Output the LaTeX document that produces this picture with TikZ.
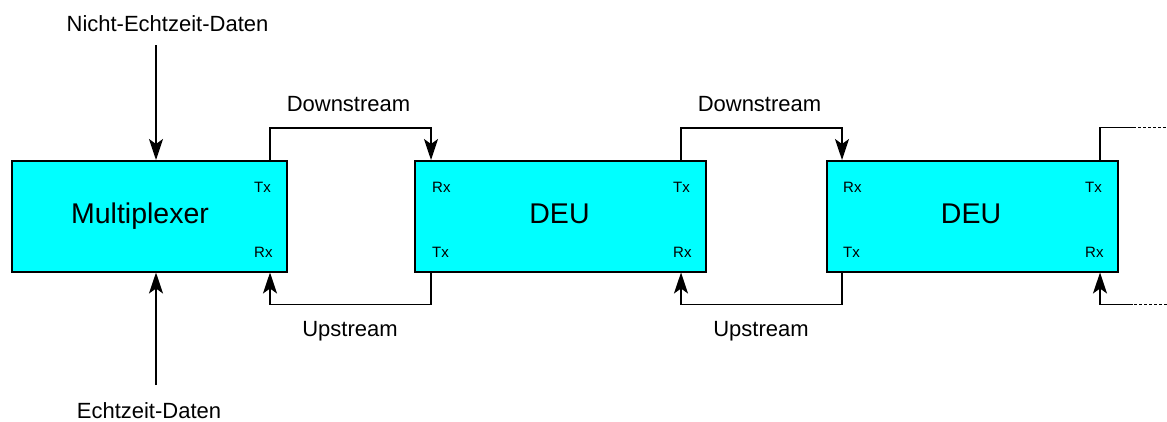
\documentclass[tikz,border=0pt]{standalone}
\usepackage{fontspec}
\setmainfont{Liberation Sans}
\usetikzlibrary{arrows.meta,calc}
\definecolor{aqua}{RGB}{0,255,255}
\begin{document}
\begin{tikzpicture}[x=1pt,y=-1pt,
  unit/.style={draw=black, line width=1.5pt, fill=aqua, inner sep=0pt,
    minimum height=111pt, anchor=north west},
  port/.style={font=\fontsize{15}{15}\selectfont, inner sep=0pt, anchor=west},
  title/.style={font=\fontsize{28.5}{30}\selectfont, inner sep=0pt, anchor=base},
  caption/.style={font=\fontsize{22}{24}\selectfont, inner sep=0pt, anchor=base},
  link/.style={line width=1.6pt},
  arr/.style={link, -{Stealth[length=21pt,width=14pt,inset=5pt]}},
  cont/.style={line width=1.2pt, dash pattern=on 3pt off 2pt},
]
\useasboundingbox (0,0) rectangle (1167,421);

% units
\node[unit, minimum width=275pt] (mux)  at (11,160)  {};
\node[unit, minimum width=291pt] (deuA) at (414,160) {};
\node[unit, minimum width=291pt] (deuB) at (826,160) {};

\node[title] (muxT)  at (140,223)   {Multiplexer};
\node[title] (deuAT) at (559.5,223) {DEU};
\node[title] (deuBT) at (971,223)   {DEU};

% port labels
\node[port] (muxTx)  at (254,187) {Tx};
\node[port] (muxRx)  at (254,252) {Rx};
\node[port] (deuARx) at (432,187) {Rx};
\node[port] (deuATx) at (432,252) {Tx};
\node[port] (deuATo) at (673,187) {Tx};
\node[port] (deuARi) at (673,252) {Rx};
\node[port] (deuBRx) at (843,187) {Rx};
\node[port] (deuBTx) at (843,252) {Tx};
\node[port] (deuBTo) at (1085,187) {Tx};
\node[port] (deuBRi) at (1085,252) {Rx};

% port columns
\coordinate (pM)  at (270,0);
\coordinate (pAL) at (431,0);
\coordinate (pAR) at (681,0);
\coordinate (pBL) at (842,0);
\coordinate (pBR) at (1100,0);
\coordinate (downRow) at (0,128);
\coordinate (upRow)   at (0,304.5);

% inputs of the multiplexer
\node[caption] (nrt) at (167.5,31) {Nicht-Echtzeit-Daten};
\node[caption] (rt)  at (149,418)  {Echtzeit-Daten};
\coordinate (nrtIn) at (156,45);
\coordinate (rtIn)  at (156,385);
\draw[arr] (nrtIn) -- (mux.north -| nrtIn);
\draw[arr] (rtIn) -- (mux.south -| rtIn);

% links between the units
\node[caption] (dsA) at (348.5,111) {Downstream};
\node[caption] (dsB) at (759.5,111) {Downstream};
\node[caption] (usA) at (350,336)   {Upstream};
\node[caption] (usB) at (761,336)   {Upstream};

\draw[arr] (mux.north -| pM) -- (pM |- downRow) -| (deuA.north -| pAL);
\draw[arr] (deuA.south -| pAL) -- (pAL |- upRow) -| (mux.south -| pM);
\draw[arr] (deuA.north -| pAR) -- (pAR |- downRow) -| (deuB.north -| pBL);
\draw[arr] (deuB.south -| pBL) -- (pBL |- upRow) -| (deuA.south -| pAR);

% continuation to the next unit
\coordinate (nxTopS) at (1133,127.5);
\coordinate (nxTop)  at (1167,127.5);
\coordinate (nxBotS) at (1133,304.5);
\coordinate (nxBot)  at (1167,304.5);
\draw[link] (deuB.north -| pBR) |- (nxTopS);
\draw[cont] (nxTopS) -- (nxTop);
\draw[cont] (nxBot) -- (nxBotS);
\draw[arr] (nxBotS) -| (deuB.south -| pBR);
\end{tikzpicture}
\end{document}
